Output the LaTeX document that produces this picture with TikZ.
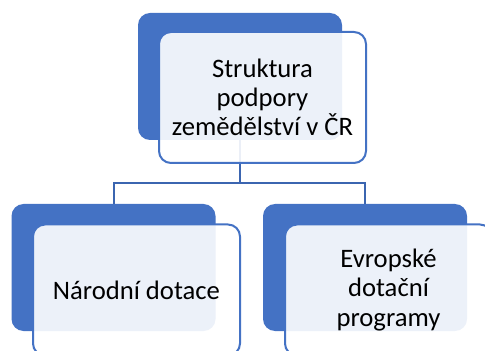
\documentclass[tikz,border=0pt]{standalone}
\usepackage{fontspec}
\setmainfont{Carlito}
\usetikzlibrary{positioning}
\definecolor{accblue}{HTML}{4472C4}
\definecolor{linkblue}{HTML}{3B65B0}

\begin{document}
\begin{tikzpicture}[x=0.75pt,y=0.75pt,
    back/.style={fill=accblue,draw=none,rounded corners=9pt,minimum width=153pt,minimum height=95.25pt},
    front/.style={fill=white,fill opacity=0.9,text opacity=1,draw=accblue,line width=1.5pt,rounded corners=9pt,
        minimum width=155.25pt,minimum height=98.25pt,align=center,font=\fontsize{20}{22}\selectfont},
    link/.style={draw=linkblue,line width=1.5pt}]
    \clip (0,0) rectangle (485,350);
    \node[back] (top) at (240,273.5) {};
    \node[back] (nat) at (113.5,82.5) {};
    \node[back] (eu) at (365,82.5) {};
    \coordinate (split) at (240,167);
    \draw[link] (top.south) -- (split) -| (nat.north);
    \draw[link] (split) -| (eu.north);
    \node[front] (topt) at (262.5,252.5) {Struktura\\podpory\\zemědělství v ČR};
    \node[front] (natt) at (136.5,60) {Národní dotace};
    \node[front] (eut) at (388.5,60) {Evropské\\dotační\\programy};
\end{tikzpicture}
\end{document}
